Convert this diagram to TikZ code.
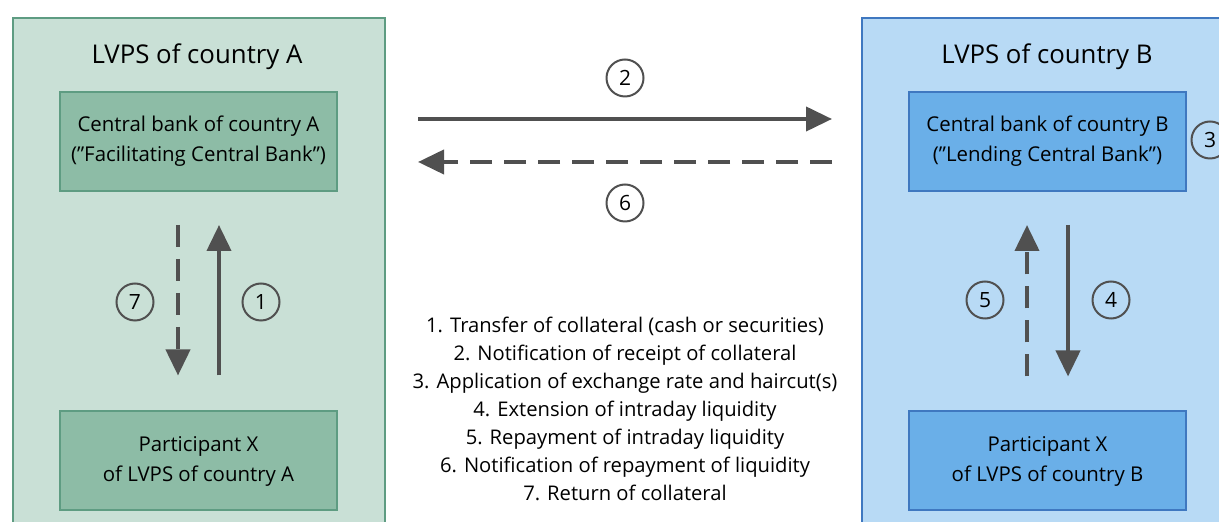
\documentclass[tikz,border=0pt]{standalone}
\usepackage{fontspec}
\setmainfont{Open Sans}
\usetikzlibrary{arrows.meta,positioning}

\definecolor{outerA}{HTML}{C9E0D6}
\definecolor{lineA}{HTML}{5E9C82}
\definecolor{innerA}{HTML}{8DBCA6}
\definecolor{outerB}{HTML}{B8DAF5}
\definecolor{lineB}{HTML}{3F78C0}
\definecolor{innerB}{HTML}{6AAFE8}
\definecolor{arrowgrey}{HTML}{505050}

\begin{document}
\begin{tikzpicture}[x=0.5pt, y=-0.5pt,
		outer/.style = {draw, line width=1pt, inner sep=0pt, anchor=north west},
		bank/.style = {draw, line width=1pt, minimum width=138.5pt, minimum height=49.5pt, align=center, font=\fontsize{10.2}{15}\selectfont},
		title/.style = {font=\fontsize{12.9}{15}\selectfont},
		num/.style = {draw=arrowgrey, circle, line width=1pt, minimum size=18.5pt, inner sep=0pt, font=\fontsize{10.5}{11}\selectfont},
		flow/.style = {draw=arrowgrey, line width=2pt, -{Triangle[length=13pt,width=12pt]}},
		back/.style = {flow, dash pattern=on 11pt off 6pt}]
	\useasboundingbox (0,0) rectangle (1219,522);
	\node[outer, fill=outerA, draw=lineA, minimum width=186pt, minimum height=270pt] (lvpsA) at (12,17) {};
	\node[outer, fill=outerB, draw=lineB, minimum width=200pt, minimum height=270pt] (lvpsB) at (861,17) {};
	\node[title] (tA) at (197,57) {LVPS of country A};
	\node[title] (tB) at (1047,57) {LVPS of country B};
	\node[bank, fill=innerA, draw=lineA] (cbA) at (198.5,141.5) {Central bank of country A\\(”Facilitating Central Bank”)};
	\node[bank, fill=innerA, draw=lineA] (pxA) at (198.5,461) {Participant X\\of LVPS of country A};
	\node[bank, fill=innerB, draw=lineB] (cbB) at (1047.5,141.5) {Central bank of country B\\(”Lending Central Bank”)};
	\node[bank, fill=innerB, draw=lineB] (pxB) at (1047.5,461) {Participant X\\of LVPS of country B};
	\node[num] (n1) at (261,302) {1};
	\node[num] (n2) at (625,78) {2};
	\node[num] (n3) at (1210,140) {3};
	\node[num] (n4) at (1111,300) {4};
	\node[num] (n5) at (985,300) {5};
	\node[num] (n6) at (625,203) {6};
	\node[num] (n7) at (135,302) {7};
	\node[align=center, font=\fontsize{10.1}{14}\selectfont] (steps) at (625,409) {1. Transfer of collateral (cash or securities)\\2. Notification of receipt of collateral\\3. Application of exchange rate and haircut(s)\\4. Extension of intraday liquidity\\5. Repayment of intraday liquidity\\6. Notification of repayment of liquidity\\7. Return of collateral};
	\draw[flow, shorten <=40pt, shorten >=38pt] ([yshift=11.25pt]cbA.east) -- ([yshift=11.25pt]cbB.west);
	\draw[back, shorten <=38pt, shorten >=40pt] ([yshift=-10.25pt]cbB.west) -- ([yshift=-10.25pt]cbA.east);
	\draw[flow, shorten <=17.5pt, shorten >=16.5pt] ([xshift=10.25pt]pxA.north) -- ([xshift=10.25pt]cbA.south);
	\draw[back, shorten <=16.5pt, shorten >=17.5pt] ([xshift=-10.25pt]cbA.south) -- ([xshift=-10.25pt]pxA.north);
	\draw[flow, shorten <=16.5pt, shorten >=17pt] ([xshift=10.25pt]cbB.south) -- ([xshift=10.25pt]pxB.north);
	\draw[back, shorten <=17pt, shorten >=16.5pt] ([xshift=-10.25pt]pxB.north) -- ([xshift=-10.25pt]cbB.south);
\end{tikzpicture}
\end{document}
